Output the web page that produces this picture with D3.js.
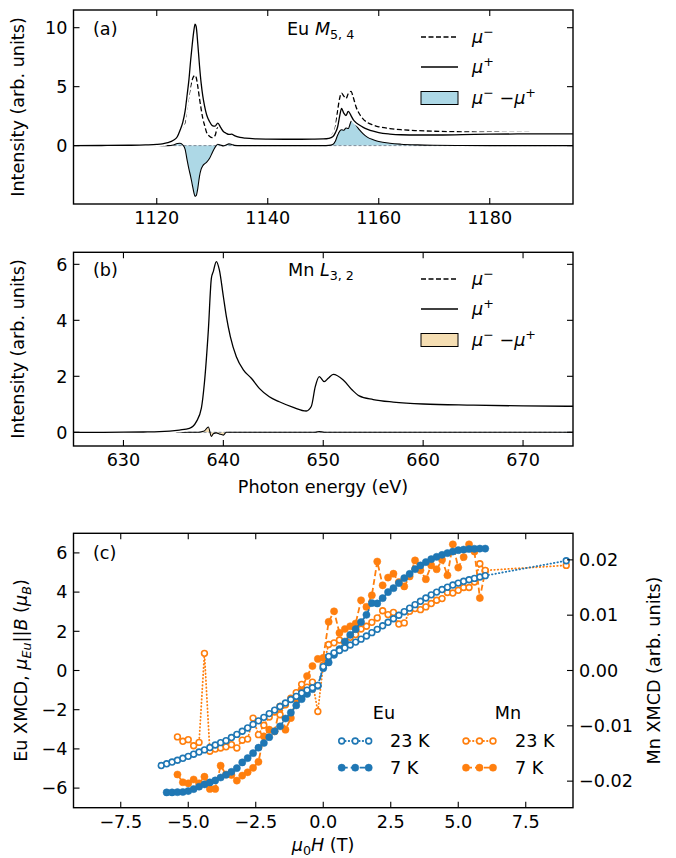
<!DOCTYPE html>
<html><head><meta charset="utf-8">
<script src="https://cdn.jsdelivr.net/npm/d3@7"></script>
<style>body{margin:0;background:#fff}svg{display:block}text{font-family:"DejaVu Sans",sans-serif;fill:#000}</style>
</head><body><svg id="c" width="676" height="858"></svg>
<script>
// ---------- Panel (a): Eu M5,4 ----------
const euE = [1105,1110,1115,1118,1120,1121,1122,1123,1123.7,1124.2,1124.7,1125.1,1125.5,1125.8,1126.1,1126.4,1126.7,1126.9,1127.1,1127.4,1127.7,1128.0,1128.3,1128.6,1129.0,1129.5,1130.0,1130.5,1131.0,1131.5,1132.0,1132.5,1133.0,1133.5,1134.0,1135,1136,1138,1140,1143,1146,1148,1150,1151,1151.7,1152.2,1152.6,1153.0,1153.3,1153.7,1154.1,1154.5,1155.0,1155.4,1155.9,1156.5,1157.2,1158,1159,1160,1162,1164,1167,1170,1175,1180,1185,1190,1195];
const euPlus = [0,0.01,0.03,0.06,0.1,0.15,0.25,0.45,0.75,1.3,2.0,2.9,4.4,5.6,7.2,8.6,9.8,10.3,10.1,8.6,6.8,5.3,4.2,3.4,2.6,2.05,1.7,1.65,1.9,1.55,1.2,1.05,0.95,0.97,0.85,0.7,0.63,0.57,0.55,0.54,0.54,0.55,0.57,0.62,0.75,1.1,1.6,2.6,3.15,2.75,2.55,2.9,2.55,2.2,1.95,1.75,1.55,1.38,1.22,1.1,0.98,0.92,0.9,0.9,0.93,0.97,0.99,1.0,1.0];
const euMinus = [0,0.01,0.03,0.06,0.1,0.15,0.25,0.42,0.8,1.2,1.6,2.0,3.3,4.2,5.0,5.6,5.9,5.95,5.8,5.0,4.0,3.1,2.3,1.75,1.1,0.8,0.68,0.85,1.6,1.5,1.2,1.05,0.95,0.97,0.85,0.68,0.6,0.53,0.5,0.49,0.49,0.5,0.55,0.65,0.95,1.6,3.0,4.1,4.45,4.2,4.0,4.4,4.6,4.1,3.3,2.7,2.25,1.95,1.75,1.6,1.45,1.35,1.27,1.22,1.17,1.14,1.12,1.1,1.08];
const euDiff = [0,0,0,0,0,0,0,0.05,0.18,0.2,0.05,-0.3,-1.3,-2.0,-2.6,-3.3,-4.0,-4.3,-4.25,-3.6,-2.6,-2.0,-1.7,-1.55,-1.4,-1.1,-0.6,-0.15,0.12,0.05,-0.02,0.05,0.15,0.1,0.02,0,0,0,0,0,0,0,0,0.02,0.1,0.4,0.9,1.25,1.35,1.3,1.5,1.45,2.05,2.25,1.75,1.35,1.0,0.7,0.5,0.35,0.2,0.12,0.06,0.03,0.01,0,0,0,0];
const aXTicks = [1120,1140,1160,1180];
const aYTicks = [0,5,10];

// ---------- Panel (b): Mn L3,2 ----------
const mnE = [625,628,630,632,633.6,635.6,636.6,637.3,637.8,638.1,638.5,638.8,639.0,639.3,639.6,640.0,640.3,640.7,641.3,642.0,642.8,643.6,644.6,645.6,647.0,648.3,648.8,649.2,649.6,650.1,650.5,651.0,652.0,652.9,653.6,655,657,660,665,670,675];
const mnPlus = [0,0,0.003,0.01,0.02,0.08,0.14,0.38,0.86,1.75,3.66,5.5,5.75,6.1,5.8,4.85,4.14,3.42,2.7,2.23,1.93,1.57,1.27,1.09,0.89,0.76,0.92,1.63,1.99,1.81,1.93,2.07,1.87,1.51,1.3,1.17,1.08,1.01,0.97,0.94,0.93];
const mnMinus = [0,0,0.003,0.01,0.02,0.08,0.14,0.38,0.88,1.8,3.85,5.35,5.7,6.08,5.75,4.75,4.14,3.42,2.7,2.23,1.93,1.57,1.27,1.09,0.89,0.76,0.92,1.63,2.02,1.81,1.93,2.07,1.87,1.51,1.3,1.17,1.08,1.01,0.97,0.94,0.93];
const mnDiff = [0,0,0,0,0,0,0,0,0.02,0.05,0.19,-0.15,-0.05,-0.02,-0.06,-0.1,0,0,0,0,0,0,0,0,0,0,0,0,0.03,0,0,0,0,0,0,0,0,0,0,0,0];
const bXTicks = [630,640,650,660,670];
const bYTicks = [0,2,4,6];

// ---------- Panel (c): hysteresis ----------
const fieldEu23 = [-6.0,-5.8,-5.6,-5.4,-5.2,-5.0,-4.8,-4.6,-4.4,-4.2,-4.0,-3.8,-3.6,-3.4,-3.2,-3.0,-2.8,-2.6,-2.4,-2.2,-2.0,-1.8,-1.6,-1.4,-1.2,-1.0,-0.8,-0.6,-0.4,-0.2,0.0,0.2,0.4,0.6,0.8,1.0,1.2,1.4,1.6,1.8,2.0,2.2,2.4,2.6,2.8,3.0,3.2,3.4,3.6,3.8,4.0,4.2,4.4,4.6,4.8,5.0,5.2,5.4,5.6,5.8,6.0,9.0];
const eu23 = [-4.85,-4.76,-4.67,-4.58,-4.48,-4.38,-4.27,-4.16,-4.05,-3.93,-3.80,-3.68,-3.58,-3.42,-3.26,-3.10,-2.93,-2.75,-2.57,-2.39,-2.20,-2.02,-1.84,-1.66,-1.48,-1.32,-1.15,-1.0,-0.88,-0.76,0.2,0.72,0.9,1.02,1.15,1.3,1.45,1.6,1.76,1.93,2.1,2.28,2.46,2.64,2.82,3.0,3.18,3.36,3.53,3.7,3.86,4.0,4.13,4.25,4.36,4.46,4.55,4.63,4.7,4.77,4.84,5.6];
const fieldEu7 = [-5.8,-5.6,-5.4,-5.2,-5.0,-4.8,-4.6,-4.4,-4.2,-4.0,-3.8,-3.6,-3.4,-3.2,-3.0,-2.8,-2.6,-2.4,-2.2,-2.0,-1.8,-1.6,-1.4,-1.2,-1.0,-0.8,-0.6,-0.4,-0.2,0.0,0.2,0.4,0.6,0.8,1.0,1.2,1.4,1.6,1.8,2.0,2.2,2.4,2.6,2.8,3.0,3.2,3.4,3.6,3.8,4.0,4.2,4.4,4.6,4.8,5.0,5.2,5.4,5.6,5.8,6.0];
const eu7 = [-6.22,-6.22,-6.21,-6.2,-6.15,-6.05,-5.93,-5.81,-5.71,-5.61,-5.46,-5.32,-5.17,-4.98,-4.69,-4.47,-4.22,-3.94,-3.7,-3.4,-3.1,-2.85,-2.45,-2.15,-1.78,-1.46,-1.2,-0.95,-0.78,0.12,0.41,0.8,1.09,1.48,1.82,2.11,2.47,2.84,3.44,3.42,3.69,4.0,4.2,4.46,4.71,4.93,5.17,5.36,5.53,5.68,5.8,5.9,5.99,6.07,6.14,6.17,6.2,6.21,6.22,6.22];
const fieldMn23 = [-5.4,-5.2,-5.0,-4.8,-4.6,-4.4,-4.2,-4.0,-3.8,-3.6,-3.4,-3.2,-3.0,-2.8,-2.6,-2.4,-2.2,-2.0,-1.8,-1.6,-1.4,-1.2,-1.0,-0.8,-0.6,-0.4,-0.2,0.0,0.2,0.4,0.6,0.8,1.0,1.2,1.4,1.6,1.8,2.0,2.2,2.4,2.6,2.8,3.0,3.2,3.4,3.6,3.8,4.0,4.2,4.4,4.6,4.8,5.0,5.2,5.4,5.6,5.8,6.0,9.0];
const mn23 = [-0.0120,-0.0128,-0.0125,-0.0136,-0.0130,0.0031,-0.0146,-0.0142,-0.0140,-0.0138,-0.0134,-0.0140,-0.0126,-0.0124,-0.0086,-0.0116,-0.0099,-0.0084,-0.0075,-0.0080,-0.0062,-0.0050,-0.0040,-0.0025,-0.0030,-0.0021,-0.0074,0.0010,0.0047,0.0050,0.0055,0.0050,0.0060,0.0065,0.0075,0.0080,0.0087,0.0095,0.0108,0.0101,0.0105,0.0084,0.0086,0.0107,0.0112,0.0110,0.0115,0.0121,0.0127,0.0130,0.0141,0.0140,0.0145,0.0150,0.0150,0.0160,0.0193,0.0181,0.0190];
const fieldMn7 = [-5.4,-5.2,-5.0,-4.8,-4.6,-4.4,-4.2,-4.0,-3.8,-3.6,-3.4,-3.2,-3.0,-2.8,-2.6,-2.4,-2.2,-2.0,-1.8,-1.6,-1.4,-1.2,-1.0,-0.8,-0.6,-0.4,-0.2,0.0,0.2,0.4,0.6,0.8,1.0,1.2,1.4,1.6,1.8,2.0,2.2,2.4,2.6,2.8,3.0,3.2,3.4,3.6,3.8,4.0,4.2,4.4,4.6,4.8,5.0,5.2,5.4,5.6,5.8,6.0];
const mn7 = [-0.0188,-0.0202,-0.0204,-0.0197,-0.0204,-0.0192,-0.0214,-0.0214,-0.0172,-0.0188,-0.0189,-0.0199,-0.0190,-0.0184,-0.0176,-0.0165,-0.0119,-0.0107,-0.0110,-0.0065,-0.0107,-0.0086,-0.0052,-0.0034,-0.0010,0.0008,0.0021,0.0023,0.0088,0.0107,0.0068,0.0075,0.0080,0.0085,0.0127,0.0115,0.0136,0.0197,0.0154,0.0168,0.0175,0.0160,0.0152,0.0170,0.0199,0.0181,0.0165,0.0190,0.0183,0.0200,0.0172,0.0228,0.0186,0.0205,0.0228,0.0215,0.0131,0.0180];
const cXTicks = [-7.5,-5.0,-2.5,0.0,2.5,5.0,7.5];
const cYTicks = [-6,-4,-2,0,2,4,6];
const cRTicks = [-0.02,-0.01,0.0,0.01,0.02];

// ---------- drawing ----------
const svg = d3.select('#c');
const FS = 17.6, L = 73.5, R = 573;
const BLUE = '#1f77b4', ORANGE = '#ff7f0e';

function rich(text, parts, size) {
  let cur = 0;
  parts.forEach(p => {
    const shift = p.sub ? size * 0.24 : p.sup ? -size * 0.4 : 0;
    const ts = text.append('tspan').text(p.t).attr('dy', shift - cur);
    cur = shift;
    if (p.sub || p.sup) ts.attr('font-size', size * 0.72);
    if (p.i) ts.attr('font-style', 'italic');
  });
}

function frame(x, y, xt, yt, xfmt, yfmt, rightAxis) {
  const [x0, x1] = x.range(), [y0, y1] = y.range();
  const g = svg.append('g');
  const tl = 6;
  xt.forEach(v => {
    const px = x(v);
    g.append('line').attr('x1', px).attr('x2', px).attr('y1', y0).attr('y2', y0 - tl).attr('stroke', '#000').attr('stroke-width', 1.1);
    g.append('line').attr('x1', px).attr('x2', px).attr('y1', y1).attr('y2', y1 + tl).attr('stroke', '#000').attr('stroke-width', 1.1);
    g.append('text').attr('x', px).attr('y', y0 + 20).attr('text-anchor', 'middle').attr('font-size', FS).text(xfmt(v));
  });
  yt.forEach(v => {
    const py = y(v);
    g.append('line').attr('x1', x0).attr('x2', x0 + tl).attr('y1', py).attr('y2', py).attr('stroke', '#000').attr('stroke-width', 1.1);
    if (!rightAxis) g.append('line').attr('x1', x1).attr('x2', x1 - tl).attr('y1', py).attr('y2', py).attr('stroke', '#000').attr('stroke-width', 1.1);
    g.append('text').attr('x', x0 - 6).attr('y', py + 6.3).attr('text-anchor', 'end').attr('font-size', FS).text(yfmt(v));
  });
  if (rightAxis) {
    const [ry, rt, rfmt] = rightAxis;
    rt.forEach(v => {
      const py = ry(v);
      g.append('line').attr('x1', x1).attr('x2', x1 - tl).attr('y1', py).attr('y2', py).attr('stroke', '#000').attr('stroke-width', 1.1);
      g.append('text').attr('x', x1 + 6).attr('y', py + 6.3).attr('text-anchor', 'start').attr('font-size', FS).text(rfmt(v));
    });
  }
  g.append('rect').attr('x', x0).attr('y', y1).attr('width', x1 - x0).attr('height', y0 - y1)
    .attr('fill', 'none').attr('stroke', '#000').attr('stroke-width', 1.4);
}

function clip(id, x, y) {
  const [x0, x1] = x.range(), [y0, y1] = y.range();
  svg.append('clipPath').attr('id', id).append('rect').attr('x', x0).attr('y', y1).attr('width', x1 - x0).attr('height', y0 - y1);
  return svg.append('g').attr('clip-path', `url(#${id})`);
}

function spectrum(id, E, minusArr, plusArr, diffArr, x, y, fillCol) {
  const g = clip(id, x, y);
  const rows = E.map((e, i) => ({ e, m: minusArr[i], p: plusArr[i], d: diffArr[i] }));
  const area = d3.area().x(d => x(d.e)).y0(y(0)).y1(d => y(d.d)).curve(d3.curveMonotoneX);
  g.append('path').datum(rows).attr('d', area).attr('fill', fillCol).attr('stroke', 'none');
  const ld = d3.line().x(d => x(d.e)).y(d => y(d.d)).curve(d3.curveMonotoneX);
  g.append('line').attr('x1', x.range()[0]).attr('x2', x.range()[1]).attr('y1', y(0)).attr('y2', y(0))
    .attr('stroke', '#7d8c99').attr('stroke-width', 1).attr('stroke-dasharray', '3,2');
  g.append('path').datum(rows).attr('d', ld).attr('fill', 'none').attr('stroke', '#000').attr('stroke-width', 1.1);
  const lm = d3.line().x(d => x(d.e)).y(d => y(d.m)).curve(d3.curveMonotoneX);
  const lp = d3.line().x(d => x(d.e)).y(d => y(d.p)).curve(d3.curveMonotoneX);
  g.append('path').datum(rows).attr('d', lm).attr('fill', 'none').attr('stroke', '#fff').attr('stroke-width', 4.5).attr('stroke-dasharray', '5,2.5');
  g.append('path').datum(rows).attr('d', lm).attr('fill', 'none').attr('stroke', '#000').attr('stroke-width', 1.3).attr('stroke-dasharray', '5,2.5');
  g.append('path').datum(rows).attr('d', lp).attr('fill', 'none').attr('stroke', '#fff').attr('stroke-width', 4.5);
  g.append('path').datum(rows).attr('d', lp).attr('fill', 'none').attr('stroke', '#000').attr('stroke-width', 1.3);
}

function specLegend(y0, fillCol) {
  const g = svg.append('g');
  const xs = 421, xe = 458, tx = 472;
  g.append('line').attr('x1', xs).attr('x2', xe).attr('y1', y0).attr('y2', y0).attr('stroke', '#000').attr('stroke-width', 1.3).attr('stroke-dasharray', '5,2.5');
  g.append('line').attr('x1', xs).attr('x2', xe).attr('y1', y0 + 30).attr('y2', y0 + 30).attr('stroke', '#000').attr('stroke-width', 1.3);
  g.append('rect').attr('x', xs).attr('y', y0 + 61 - 6.5).attr('width', xe - xs).attr('height', 13).attr('fill', fillCol).attr('stroke', '#000').attr('stroke-width', 1);
  rich(g.append('text').attr('x', tx).attr('y', y0 + 6).attr('font-size', FS), [{ t: '\u03bc', i: 1 }, { t: '\u2212', sup: 1 }], FS);
  rich(g.append('text').attr('x', tx).attr('y', y0 + 36).attr('font-size', FS), [{ t: '\u03bc', i: 1 }, { t: '+', sup: 1 }], FS);
  rich(g.append('text').attr('x', tx).attr('y', y0 + 67).attr('font-size', FS), [{ t: '\u03bc', i: 1 }, { t: '\u2212', sup: 1 }, { t: ' \u2212', }, { t: '\u03bc', i: 1 }, { t: '+', sup: 1 }], FS);
}

// Panel (a)
const xA = d3.scaleLinear().domain([1105, 1195]).range([L, R]);
const yA = d3.scaleLinear().domain([-4.95, 11.5]).range([204, 10]);
spectrum('ca', euE, euMinus, euPlus, euDiff, xA, yA, '#add8e6');
frame(xA, yA, aXTicks, aYTicks, d3.format('d'), d3.format('d'));
svg.append('text').attr('x', 93).attr('y', 35).attr('font-size', FS).text('(a)');
rich(svg.append('text').attr('x', 287).attr('y', 35).attr('font-size', FS), [{ t: 'Eu ' }, { t: 'M', i: 1 }, { t: '5, 4', sub: 1 }], FS);
specLegend(37, '#add8e6');
svg.append('text').attr('transform', 'translate(24,107) rotate(-90)').attr('text-anchor', 'middle').attr('font-size', FS).text('Intensity (arb. units)');

// Panel (b)
const xB = d3.scaleLinear().domain([625, 675]).range([L, R]);
const yB = d3.scaleLinear().domain([-0.49, 6.43]).range([446, 252.3]);
spectrum('cb', mnE, mnMinus, mnPlus, mnDiff, xB, yB, '#f5deb3');
frame(xB, yB, bXTicks, bYTicks, d3.format('d'), d3.format('d'));
svg.append('text').attr('x', 93).attr('y', 276).attr('font-size', FS).text('(b)');
rich(svg.append('text').attr('x', 288).attr('y', 276).attr('font-size', FS), [{ t: 'Mn ' }, { t: 'L', i: 1 }, { t: '3, 2', sub: 1 }], FS);
specLegend(279, '#f5deb3');
svg.append('text').attr('transform', 'translate(24,349) rotate(-90)').attr('text-anchor', 'middle').attr('font-size', FS).text('Intensity (arb. units)');
svg.append('text').attr('x', 323).attr('y', 493).attr('text-anchor', 'middle').attr('font-size', FS).text('Photon energy (eV)');

// Panel (c)
const xC = d3.scaleLinear().domain([-9.25, 9.25]).range([L, R]);
const yC = d3.scaleLinear().domain([-7, 7]).range([807.7, 533.3]);
const yCR = d3.scaleLinear().domain([-0.0248, 0.0248]).range([807.7, 533.3]);
const gc = clip('cc', xC, yC);

function series(xs, vs, ys, col, open, dash) {
  const pts = xs.map((f, i) => [xC(f), ys(vs[i])]);
  gc.append('path').datum(pts).attr('d', d3.line()).attr('fill', 'none').attr('stroke', col)
    .attr('stroke-width', 1.8).attr('stroke-dasharray', dash).attr('stroke-linecap', open ? 'round' : 'butt');
  gc.selectAll(null).data(pts).enter().append('circle').attr('cx', d => d[0]).attr('cy', d => d[1])
    .attr('r', open ? 2.9 : 3.6).attr('fill', open ? '#fff' : col).attr('stroke', col).attr('stroke-width', open ? 1.6 : 0.5);
}
series(fieldMn7, mn7, yCR, ORANGE, false, '6,3');
series(fieldMn23, mn23, yCR, ORANGE, true, '0.5,3');
series(fieldEu7, eu7, yC, BLUE, false, '6,3');
series(fieldEu23, eu23, yC, BLUE, true, '0.5,3');

frame(xC, yC, cXTicks, cYTicks, v => d3.format('.1f')(v), d3.format('d'), [yCR, cRTicks, v => d3.format('.2f')(v)]);
svg.append('text').attr('x', 93).attr('y', 559).attr('font-size', FS).text('(c)');

// legend (c)
const lg = svg.append('g');
function legRow(x0, yy, col, open, dash) {
  const xs = [x0, x0 + 13.5, x0 + 27];
  lg.append('line').attr('x1', xs[0]).attr('x2', xs[2]).attr('y1', yy).attr('y2', yy).attr('stroke', col).attr('stroke-width', 1.8)
    .attr('stroke-dasharray', dash).attr('stroke-linecap', open ? 'round' : 'butt');
  xs.forEach(px => lg.append('circle').attr('cx', px).attr('cy', yy).attr('r', open ? 2.9 : 3.6)
    .attr('fill', open ? '#fff' : col).attr('stroke', col).attr('stroke-width', open ? 1.6 : 0.5));
}
lg.append('text').attr('x', 384).attr('y', 719).attr('text-anchor', 'middle').attr('font-size', FS).text('Eu');
lg.append('text').attr('x', 508).attr('y', 719).attr('text-anchor', 'middle').attr('font-size', FS).text('Mn');
legRow(341.7, 741, BLUE, true, '0.5,3');
legRow(341.7, 767.7, BLUE, false, '6,3');
legRow(466, 741, ORANGE, true, '0.5,3');
legRow(466, 767.7, ORANGE, false, '6,3');
lg.append('text').attr('x', 390).attr('y', 747.3).attr('font-size', FS).text('23 K');
lg.append('text').attr('x', 390).attr('y', 774).attr('font-size', FS).text('7 K');
lg.append('text').attr('x', 515).attr('y', 747.3).attr('font-size', FS).text('23 K');
lg.append('text').attr('x', 515).attr('y', 774).attr('font-size', FS).text('7 K');

rich(svg.append('text').attr('transform', 'translate(27,670.5) rotate(-90)').attr('text-anchor', 'middle').attr('font-size', FS),
  [{ t: 'Eu XMCD, ' }, { t: '\u03bc', i: 1 }, { t: 'Eu', sub: 1, i: 1 }, { t: '||' }, { t: 'B', i: 1 }, { t: ' (' }, { t: '\u03bc', i: 1 }, { t: 'B', sub: 1, i: 1 }, { t: ')' }], FS);
svg.append('text').attr('transform', 'translate(660,670.5) rotate(-90)').attr('text-anchor', 'middle').attr('font-size', FS).text('Mn XMCD (arb. units)');
rich(svg.append('text').attr('x', 323).attr('y', 851).attr('text-anchor', 'middle').attr('font-size', FS),
  [{ t: '\u03bc', i: 1 }, { t: '0', sub: 1 }, { t: 'H', i: 1 }, { t: ' (T)' }], FS);
</script></body></html>
